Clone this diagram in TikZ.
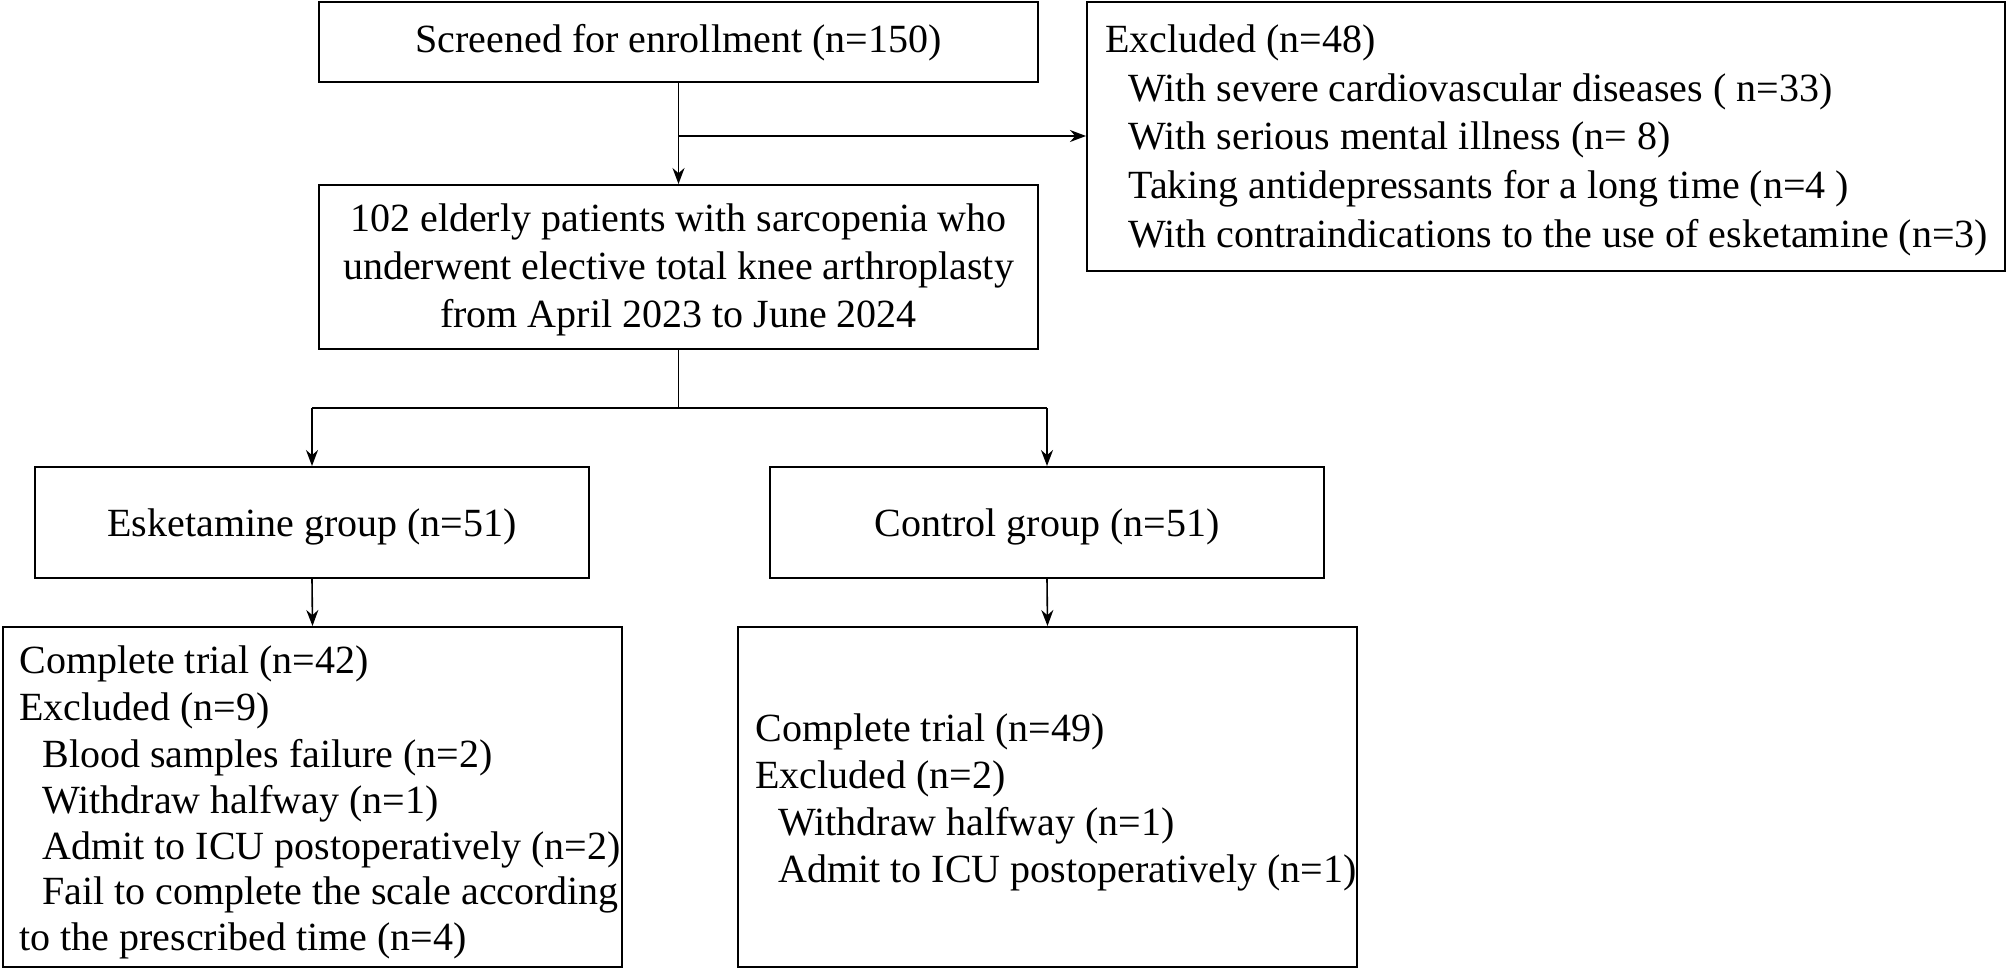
\documentclass[tikz,border=0pt]{standalone}
\usepackage{fontspec}
\setmainfont{Liberation Serif}
\usetikzlibrary{arrows.meta}
\begin{document}
\begin{tikzpicture}[x=0.5pt,y=-0.5pt,
  box/.style={draw,line width=1pt,inner sep=0pt},
  txt/.style={font=\fontsize{20}{24}\selectfont,inner sep=0pt,anchor=west},
  ctxt/.style={font=\fontsize{20}{24}\selectfont,inner sep=0pt,align=center},
  arr/.style={line width=0.8pt,-{Stealth[length=8pt,width=6pt]}},
  ln/.style={line width=0.8pt}]
\useasboundingbox (0,0) rectangle (2008,969);
\node[box,minimum width=359.5pt,minimum height=40pt] (screen) at (678.5,42) {};
\node[ctxt] (screent) at (678.5,43) {Screened for enrollment (n=150)};
\node[box,minimum width=459pt,minimum height=134.5pt] (excl) at (1546,136.5) {};
\node[txt] (e1) at (1105,43) {Excluded (n=48)};
\node[txt] (e2) at (1128,92) {With severe cardiovascular diseases ( n=33)};
\node[txt] (e3) at (1128,140) {With serious mental illness (n= 8)};
\node[txt] (e4) at (1128,189) {Taking antidepressants for a long time (n=4 )};
\node[txt] (e5) at (1128,238) {With contraindications to the use of esketamine (n=3)};
\node[box,minimum width=359.5pt,minimum height=82pt] (pat) at (678.5,267) {};
\node[ctxt] (patt) at (678.5,270) {102 elderly patients with sarcopenia who\\underwent elective total knee arthroplasty\\from April 2023 to June 2024};
\node[box,minimum width=277pt,minimum height=55.5pt] (esk) at (312,522.5) {};
\node[ctxt] (eskt) at (312,527) {Esketamine group (n=51)};
\node[box,minimum width=277pt,minimum height=55.5pt] (ctl) at (1047,522.5) {};
\node[ctxt] (ctlt) at (1047,527) {Control group (n=51)};
\node[box,minimum width=309.5pt,minimum height=170pt] (eskr) at (312.5,797) {};
\node[txt] (l1) at (19,664) {Complete trial (n=42)};
\node[txt] (l2) at (19,711) {Excluded (n=9)};
\node[txt] (l3) at (42,758) {Blood samples failure (n=2)};
\node[txt] (l4) at (42,804) {Withdraw halfway (n=1)};
\node[txt] (l5) at (42,850) {Admit to ICU postoperatively (n=2)};
\node[txt] (l6) at (42,895) {Fail to complete the scale according};
\node[txt] (l7) at (19,941) {to the prescribed time (n=4)};
\node[box,minimum width=309.5pt,minimum height=170pt] (ctlr) at (1047.5,797) {};
\node[txt] (r1) at (755,732) {Complete trial (n=49)};
\node[txt] (r2) at (755,779) {Excluded (n=2)};
\node[txt] (r3) at (778,826) {Withdraw halfway (n=1)};
\node[txt] (r4) at (778,873) {Admit to ICU postoperatively (n=1)};
\coordinate (br) at (678.5,136);
\coordinate (sp) at (678.5,408);
\draw[arr] (screen.south) -- (pat.north);
\draw[arr] (br) -- (br -| excl.west);
\draw[ln] (pat.south) -- (sp);
\draw[ln] (sp -| esk.north) -- (sp -| ctl.north);
\draw[arr] (sp -| esk.north) -- (esk.north);
\draw[arr] (sp -| ctl.north) -- (ctl.north);
\draw[arr] (esk.south) -- (eskr.north);
\draw[arr] (ctl.south) -- (ctlr.north);
\end{tikzpicture}
\end{document}
